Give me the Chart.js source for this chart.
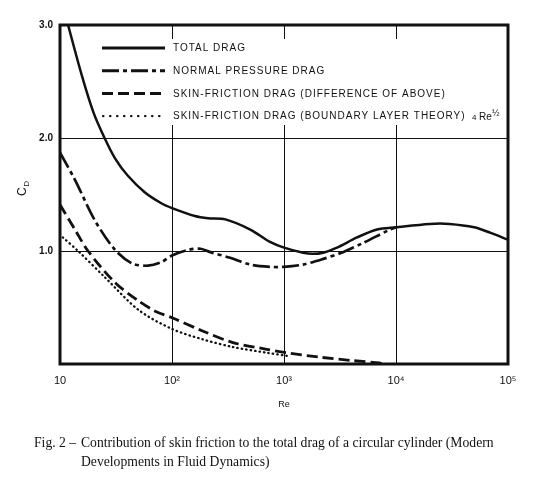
<!DOCTYPE html>
<html>
<head>
<meta charset="utf-8">
<script src="https://cdn.jsdelivr.net/npm/chart.js@4.4.1/dist/chart.umd.min.js"></script>
<style>
html, body { margin: 0; padding: 0; background: #fff; }
#wrap { width: 549px; height: 486px; }
</style>
</head>
<body>
<div id="wrap"><canvas id="drag-graph"></canvas></div>
<script>
'use strict';

// values (Re on a log axis, CD linear)
const reTotal = [11.8, 15.7, 20, 25, 31, 40, 57, 81, 100, 160, 210, 300, 500, 750, 1000, 1480, 1800, 2240, 2970, 4490, 6770, 10000, 20000, 30000, 50000, 70000, 100000];
const cdTotal = [3.0, 2.55, 2.22, 2.0, 1.82, 1.67, 1.52, 1.42, 1.38, 1.31, 1.29, 1.28, 1.19, 1.08, 1.03, 0.985, 0.975, 0.985, 1.03, 1.12, 1.19, 1.21, 1.24, 1.24, 1.21, 1.16, 1.10];

const rePressure = [10, 13.6, 20.5, 31, 44, 61, 80, 100, 140, 180, 220, 330, 500, 750, 1000, 1480, 2240, 3360, 5050, 8830, 10000];
const cdPressure = [1.87, 1.63, 1.27, 1.01, 0.89, 0.87, 0.90, 0.96, 1.01, 1.02, 0.99, 0.94, 0.88, 0.86, 0.86, 0.88, 0.93, 0.99, 1.07, 1.19, 1.21];

const reSkinDiff = [10, 13.6, 17.8, 31, 50, 70, 100, 190, 350, 700, 1050, 2100, 4100, 7100, 7500];
const cdSkinDiff = [1.41, 1.19, 1.0, 0.72, 0.56, 0.47, 0.41, 0.29, 0.19, 0.13, 0.10, 0.06, 0.03, 0.01, 0.0];

const reSkinTheory = [10.6, 14.5, 25, 50, 100, 185, 350, 700, 1100];
const cdSkinTheory = [1.12, 1.0, 0.77, 0.48, 0.31, 0.22, 0.15, 0.10, 0.07];

const seriesNames = [
	'TOTAL DRAG',
	'NORMAL PRESSURE DRAG',
	'SKIN-FRICTION DRAG (DIFFERENCE OF ABOVE)',
	'SKIN-FRICTION DRAG (BOUNDARY LAYER THEORY)'
];

const xTicks = [10, 100, 1000, 10000, 100000];
const xTickLabels = ['10', '10²', '10³', '10⁴', '10⁵'];
const yTicks = [1, 2, 3];
const yTickLabels = ['1.0', '2.0', '3.0'];

const captionHead = 'Fig. 2 –';
const captionLines = [
	'Contribution of skin friction to the total drag of a circular cylinder (Modern',
	'Developments in Fluid Dynamics)'
];

function toPoints(xs, ys) {
	return xs.map((x, i) => ({ x: x, y: ys[i] }));
}

const ink = '#111';

const insetLegend = {
	id: 'insetLegend',
	beforeDatasetsDraw(chart) {
		let ctx = chart.ctx;
		ctx.save();
		ctx.fillStyle = '#fff';
		ctx.fillRect(96, 39, 410, 86);
		ctx.restore();
	},
	afterDatasetsDraw(chart) {
		let ctx = chart.ctx;
		ctx.save();
		chart.data.datasets.forEach((ds, i) => {
			let y = 48 + i * 22.7;
			ctx.strokeStyle = ink;
			ctx.lineWidth = i === 3 ? 2.2 : 3;
			ctx.lineCap = ds.borderCapStyle || 'butt';
			ctx.setLineDash(i === 3 ? [0.5, 6.5] : (ds.borderDash || []));
			ctx.beginPath();
			ctx.moveTo(i === 3 ? 103 : 102, y);
			ctx.lineTo(165, y);
			ctx.stroke();

			ctx.setLineDash([]);
			ctx.fillStyle = ink;
			ctx.font = '10px "Liberation Sans"';
			ctx.letterSpacing = '1px';
			ctx.textBaseline = 'middle';
			ctx.fillText(ds.label, 173, y + 0.5);
		});
		// 4 Re^1/2 note on the last row
		let y = 48 + 3 * 22.7;
		ctx.letterSpacing = '0px';
		ctx.font = '8px "Liberation Sans"';
		ctx.fillText('4', 472, y + 2);
		ctx.font = '10px "Liberation Sans"';
		ctx.fillText('Re', 479, y + 1);
		ctx.font = '9px "Liberation Sans"';
		ctx.fillText('½', 492, y - 3);
		ctx.restore();
	}
};

const frameAndText = {
	id: 'frameAndText',
	afterDraw(chart) {
		let ctx = chart.ctx;
		let a = chart.chartArea;
		ctx.save();
		ctx.strokeStyle = ink;
		ctx.lineWidth = 3;
		ctx.strokeRect(a.left, a.top, a.right - a.left, a.bottom - a.top);

		// y title C with subscript D
		ctx.fillStyle = ink;
		ctx.translate(26, 196);
		ctx.rotate(-Math.PI / 2);
		ctx.textBaseline = 'alphabetic';
		ctx.font = '12px "Liberation Sans"';
		ctx.fillText('C', 0, 0);
		let cw = ctx.measureText('C').width;
		ctx.font = '8px "Liberation Sans"';
		ctx.fillText('D', cw + 0.5, 3);
		ctx.setTransform(1, 0, 0, 1, 0, 0);
		ctx.scale(chart.currentDevicePixelRatio, chart.currentDevicePixelRatio);

		// caption under the chart
		ctx.font = '12px "Liberation Serif"';
		let w = ctx.measureText(captionLines[0]).width;
		let size = 12 * 413 / w;
		ctx.font = size.toFixed(2) + 'px "Liberation Serif"';
		ctx.textBaseline = 'middle';
		ctx.fillText(captionHead, 34, 443);
		ctx.fillText(captionLines[0], 81, 443);
		ctx.fillText(captionLines[1], 81, 462);
		ctx.restore();
	}
};

let ctx = document.getElementById('drag-graph');
let chart = new Chart(ctx, {
	type: 'line',
	data: {
		datasets: [
			{
				label: seriesNames[0],
				data: toPoints(reTotal, cdTotal),
				borderColor: ink,
				borderWidth: 2.5
			},
			{
				label: seriesNames[1],
				data: toPoints(rePressure, cdPressure),
				borderColor: ink,
				borderWidth: 2.7,
				borderDash: [17, 4, 4, 4]
			},
			{
				label: seriesNames[2],
				data: toPoints(reSkinDiff, cdSkinDiff),
				borderColor: ink,
				borderWidth: 2.8,
				borderDash: [11, 5]
			},
			{
				label: seriesNames[3],
				data: toPoints(reSkinTheory, cdSkinTheory),
				borderColor: ink,
				borderWidth: 2.3,
				borderDash: [0.5, 4],
				borderCapStyle: 'round'
			}
		]
	},
	options: {
		responsive: true,
		maintainAspectRatio: false,
		animation: false,
		layout: { padding: { top: 25, right: 41, left: 0, bottom: 0 } },
		plugins: {
			legend: { display: false },
			tooltip: { enabled: false }
		},
		elements: {
			point: { radius: 0 },
			line: { tension: 0.3, fill: false }
		},
		scales: {
			x: {
				type: 'logarithmic',
				min: 10,
				max: 100000,
				afterBuildTicks: (axis) => {
					axis.ticks = xTicks.map((v) => ({ value: v }));
				},
				afterFit: (axis) => {
					axis.height = 122;
				},
				grid: { color: ink, lineWidth: 1, drawTicks: false },
				border: { display: false },
				ticks: {
					color: ink,
					padding: 10,
					autoSkip: false,
					maxRotation: 0,
					font: { family: 'Liberation Sans', size: 11 },
					callback: (value, index) => xTickLabels[index]
				},
				title: {
					display: true,
					text: 'Re',
					color: ink,
					font: { family: 'Liberation Sans', size: 9 },
					padding: { top: 0, bottom: 76 }
				}
			},
			y: {
				min: 0,
				max: 3,
				afterBuildTicks: (axis) => {
					axis.ticks = yTicks.map((v) => ({ value: v }));
				},
				afterFit: (axis) => {
					axis.width = 60;
				},
				grid: { color: ink, lineWidth: 1, drawTicks: false },
				border: { display: false },
				ticks: {
					color: ink,
					padding: 7,
					font: { family: 'Liberation Sans', size: 10, weight: 'bold' },
					callback: (value, index) => yTickLabels[index]
				}
			}
		}
	},
	plugins: [insetLegend, frameAndText]
});
</script>
</body>
</html>
